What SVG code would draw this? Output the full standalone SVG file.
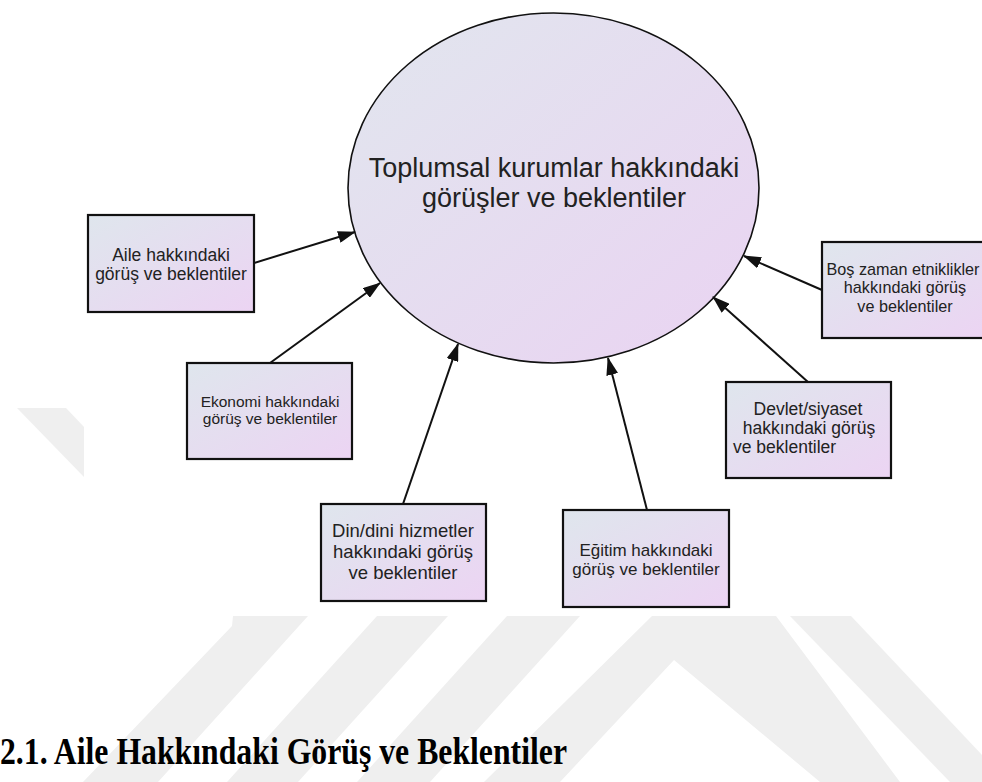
<svg xmlns="http://www.w3.org/2000/svg" width="982" height="782" viewBox="0 0 982 782">
<defs>
<linearGradient id="gb" x1="0" y1="0" x2="1" y2="1">
<stop offset="0" stop-color="#dfe6ed"/>
<stop offset="1" stop-color="#ecd4f3"/>
</linearGradient>
<linearGradient id="ge" x1="0" y1="0" x2="1" y2="1">
<stop offset="0" stop-color="#e1e6ee"/>
<stop offset="1" stop-color="#ead3f2"/>
</linearGradient>
<marker id="arr" viewBox="0 0 18 12" markerWidth="18" markerHeight="12" refX="17" refY="6" orient="auto" markerUnits="userSpaceOnUse">
<path d="M0,0 L18,6 L0,12 z" fill="#111"/>
</marker>
</defs>
<style>
.box{fill:url(#gb);stroke:#111;stroke-width:2.2}
.t{font-family:"Liberation Sans",Arial,sans-serif;fill:#222;text-anchor:middle}
.wm{fill:#efefef}
.c{stroke:#111;stroke-width:2;fill:none;marker-end:url(#arr)}
</style>
<rect width="982" height="782" fill="#fff"/>
<g id="watermark">
<polygon class="wm" points="17,408 66,408 84,427 84,477"/>
<polygon class="wm" points="233,616 308,616 158,782 83,782 232,626"/>
<polygon class="wm" points="377,616 448,616 298,782 227,782"/>
<polygon class="wm" points="507,616 580,616 430,782 357,782"/>
<polygon class="wm" points="652,616 699,616 708,616 776,616 900,782 820,782 674,660 560,782 484,782"/>
<polygon class="wm" points="790,616 851,616 982,755 982,782 950,782"/>
</g>
<g id="center">
<ellipse cx="553.5" cy="188" rx="205.5" ry="175" fill="url(#ge)" stroke="#111" stroke-width="1.6"/>
<text class="t" x="554" y="177" font-size="27">Toplumsal kurumlar hakkındaki</text>
<text class="t" x="554" y="207" font-size="27">görüşler ve beklentiler</text>
</g>
<g id="connectors">
<line class="c" x1="254" y1="263" x2="355" y2="232"/>
<line class="c" x1="270" y1="363" x2="380" y2="283"/>
<line class="c" x1="403" y1="504" x2="458" y2="344"/>
<line class="c" x1="647" y1="510" x2="608" y2="358"/>
<line class="c" x1="808" y1="382" x2="713" y2="297"/>
<line class="c" x1="822" y1="290" x2="744" y2="256"/>
</g>
<g id="n-aile">
<rect class="box" x="88" y="215" width="166" height="97"/>
<text class="t" x="171" y="261" font-size="17.5">Aile hakkındaki</text>
<text class="t" x="171" y="280" font-size="17.5">görüş ve beklentiler</text>
</g>
<g id="n-ekonomi">
<rect class="box" x="187" y="363" width="165" height="96"/>
<text class="t" x="270" y="407" font-size="15.5">Ekonomi hakkındaki</text>
<text class="t" x="270" y="424" font-size="15.5">görüş ve beklentiler</text>
</g>
<g id="n-din">
<rect class="box" x="321" y="504" width="165" height="97"/>
<text class="t" x="403" y="537" font-size="18.5">Din/dini hizmetler</text>
<text class="t" x="403" y="558" font-size="18.5">hakkındaki görüş</text>
<text class="t" x="403" y="579" font-size="18.5">ve beklentiler</text>
</g>
<g id="n-egitim">
<rect class="box" x="563" y="510" width="166" height="97"/>
<text class="t" x="646" y="556" font-size="17">Eğitim hakkındaki</text>
<text class="t" x="646" y="575" font-size="17">görüş ve beklentiler</text>
</g>
<g id="n-devlet">
<rect class="box" x="726" y="382" width="165" height="96"/>
<text class="t" x="808" y="415" font-size="17.5">Devlet/siyaset</text>
<text class="t" x="809" y="434" font-size="17.5">hakkındaki görüş</text>
<text class="t" x="733" y="453" font-size="17.5" style="text-anchor:start">ve beklentiler</text>
</g>
<g id="n-bos">
<rect class="box" x="822" y="242" width="166" height="96"/>
<text class="t" x="903" y="275" font-size="16.2">Boş zaman etniklikler</text>
<text class="t" x="905" y="293" font-size="16.2">hakkındaki görüş</text>
<text class="t" x="905" y="312" font-size="16.2">ve beklentiler</text>
</g>
<text x="0" y="764" font-family="'Liberation Serif','Times New Roman',serif" font-weight="bold" font-size="37" textLength="567" lengthAdjust="spacingAndGlyphs" fill="#000">2.1. Aile Hakkındaki Görüş ve Beklentiler</text>
</svg>
